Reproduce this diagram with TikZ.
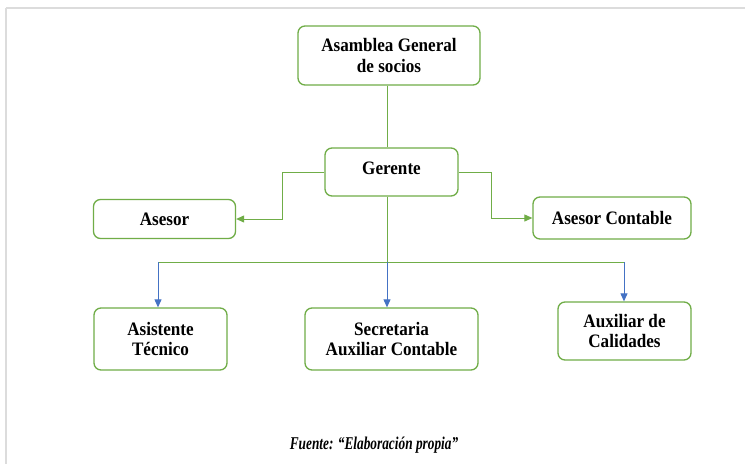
\documentclass[tikz,border=0pt]{standalone}
\usepackage{fontspec}
\setmainfont{Liberation Serif}[FakeStretch=0.9]
\newfontfamily\capfont{Liberation Serif}[FakeStretch=0.74]
\usetikzlibrary{arrows.meta}
\definecolor{boxgreen}{HTML}{70AD47}
\definecolor{arrblue}{HTML}{4472C4}
\definecolor{framegray}{HTML}{DCDCDC}
\tikzset{
  orgbox/.style={draw=boxgreen, line width=1.3pt, rounded corners=7pt, fill=white,
    align=center, inner sep=2pt, font=\bfseries\fontsize{19}{20.5}\selectfont},
  gline/.style={draw=boxgreen, line width=1pt},
  garrow/.style={gline, -{Triangle[length=8pt,width=7pt]}},
  barrow/.style={draw=arrblue, line width=1pt, -{Triangle[length=8pt,width=7pt]}},
  framel/.style={draw=framegray, line width=2pt}
}
\begin{document}
\begin{tikzpicture}[x=1pt,y=-1pt]
\useasboundingbox (0,0) rectangle (745,464);
\fill[white] (0,0) rectangle (745,464);
\draw[framel] (6,7.5) -- (745,7.5);
\draw[framel] (6,7.5) -- (6,464);

\node[orgbox, minimum width=182pt, minimum height=59pt] (asamblea) at (389,55.5) {Asamblea General\\de socios};
\node[orgbox, minimum width=133pt, minimum height=48pt] (gerente) at (391.5,172) {\raisebox{0pt}[\height][\dimexpr\depth+8pt\relax]{Gerente}};
\node[orgbox, minimum width=142pt, minimum height=39pt] (asesor) at (164.5,219) {Asesor};
\node[orgbox, minimum width=158pt, minimum height=42pt] (contable) at (612,218) {Asesor Contable};
\node[orgbox, minimum width=133pt, minimum height=62pt] (asistente) at (160.5,339) {Asistente\\Técnico};
\node[orgbox, minimum width=173pt, minimum height=62pt] (secretaria) at (391.5,339) {Secretaria\\Auxiliar Contable};
\node[orgbox, minimum width=133pt, minimum height=58pt] (auxiliar) at (624.5,331) {Auxiliar de\\Calidades};

\coordinate (v) at (387,262);
\coordinate (b1) at (158,262);
\coordinate (b3) at (624,262);

\draw[gline] (asamblea.south -| v) -- (gerente.north -| v);
\draw[garrow] (gerente.west) -- ++(-42,0) |- (asesor.east);
\draw[garrow] (gerente.east) -- ++(33,0) |- (contable.west);
\draw[gline] (gerente.south -| v) -- (v);
\draw[gline] (b1) -- (b3);
\draw[barrow] (b1) -- (b1 |- asistente.north);
\draw[barrow] (v) -- (v |- secretaria.north);
\draw[barrow] (b3) -- (b3 |- auxiliar.north);

\node[font=\capfont\bfseries\itshape\fontsize{18}{20}\selectfont] (fuente) at (374,445) {Fuente: “Elaboración propia”};
\end{tikzpicture}
\end{document}
